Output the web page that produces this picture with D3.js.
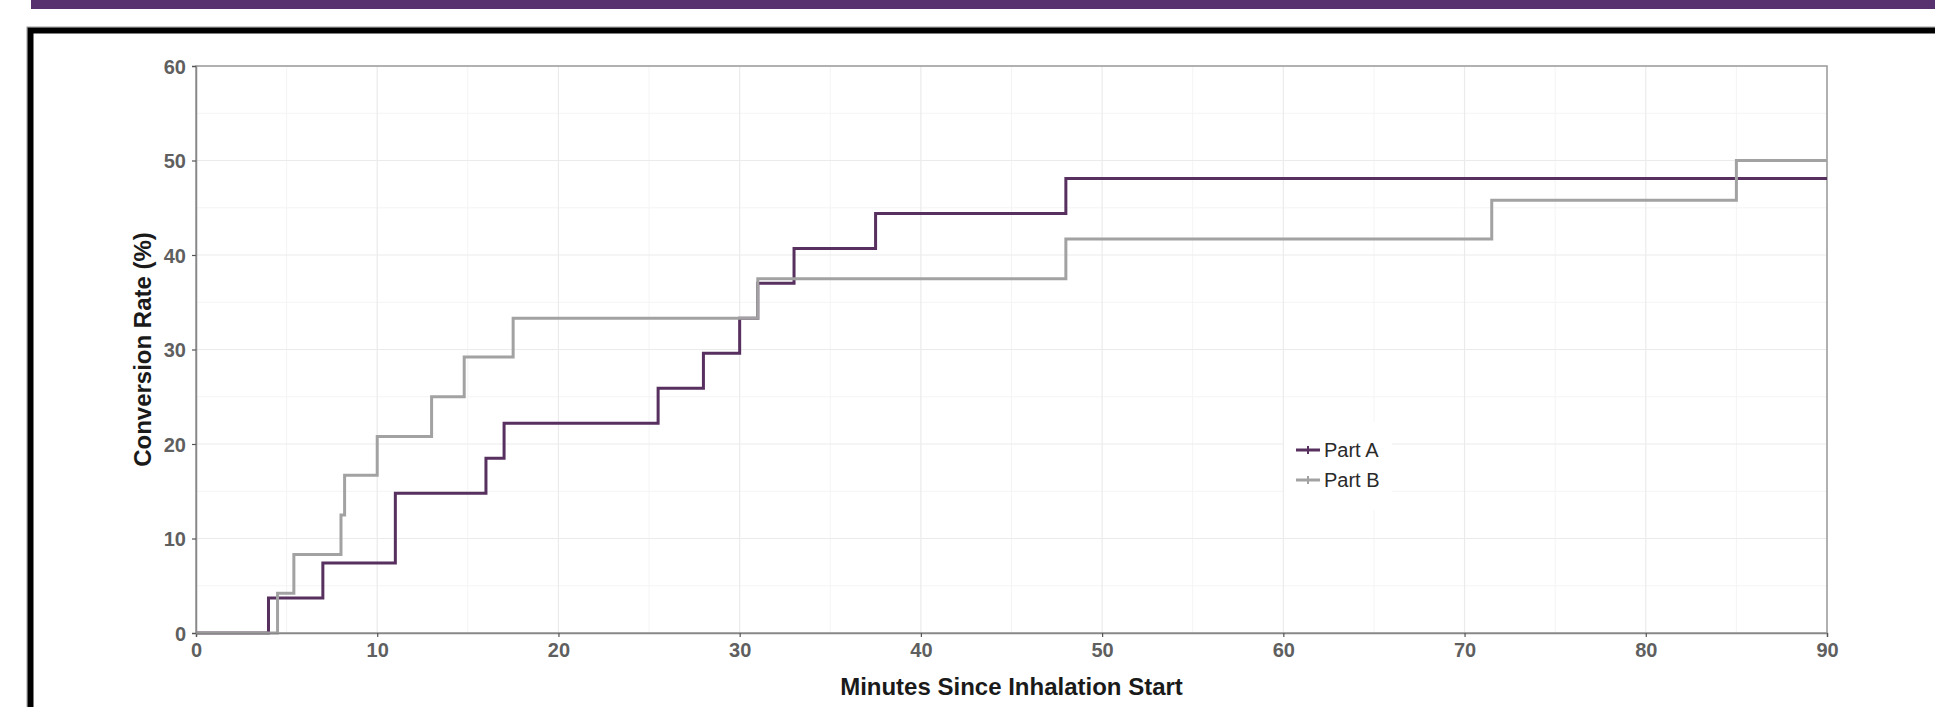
<!DOCTYPE html>
<html>
<head>
<meta charset="utf-8">
<script src="https://cdn.jsdelivr.net/npm/d3@7"></script>
<style>
  html, body { margin: 0; padding: 0; background: #fff; }
  svg { display: block; }
  text { font-family: "Liberation Sans", Arial, sans-serif; }
</style>
</head>
<body>
<div id="chart"></div>
<script>
// Part A: cumulative conversion (%) by minutes since inhalation start
const timesA = [0, 4, 7, 11, 16, 17, 25.5, 28, 30, 31, 33, 37.5, 48, 90];
const rateA  = [0, 3.7, 7.4, 14.8, 18.5, 22.2, 25.9, 29.6, 33.3, 37.0, 40.7, 44.4, 48.1, 48.1];
// Part B
const timesB = [0, 4.5, 5.4, 8, 8.2, 10, 13, 14.8, 17.5, 31, 48, 71.5, 85, 90];
const rateB  = [0, 4.2, 8.3, 12.5, 16.7, 20.8, 25.0, 29.2, 33.3, 37.5, 41.7, 45.8, 50.0, 50.0];

const seriesNames = ['Part A', 'Part B'];
const xTicks = [0, 10, 20, 30, 40, 50, 60, 70, 80, 90];
const yTicks = [0, 10, 20, 30, 40, 50, 60];

const W = 1935, H = 707;
const m = { left: 196, right: W - 1827, top: 66, bottom: H - 633 };
const colors = { 'Part A': '#57305f', 'Part B': '#a2a2a2' };

const svg = d3.select('#chart').append('svg')
  .attr('width', W).attr('height', H);

// page chrome: purple band and black frame
svg.append('rect').attr('x', 31).attr('y', 0).attr('width', W - 31).attr('height', 9)
  .attr('fill', '#58316f');
svg.append('rect').attr('x', 27).attr('y', 27).attr('width', W + 40).attr('height', H + 40)
  .attr('fill', 'none').attr('stroke', '#999').attr('stroke-width', 1);
svg.append('rect').attr('x', 30.5).attr('y', 30.5).attr('width', W + 40).attr('height', H + 40)
  .attr('fill', 'none').attr('stroke', '#000').attr('stroke-width', 6);

const x = d3.scaleLinear().domain([0, 90]).range([m.left, W - m.right]);
const y = d3.scaleLinear().domain([0, 60]).range([H - m.bottom, m.top]);

const g = svg.append('g');

// minor grid
const minorX = d3.range(5, 90, 10), minorY = d3.range(5, 60, 10);
g.append('g').selectAll('line').data(minorX).join('line')
  .attr('x1', d => x(d)).attr('x2', d => x(d)).attr('y1', y(0)).attr('y2', y(60))
  .attr('stroke', '#f4f4f4').attr('stroke-width', 1);
g.append('g').selectAll('line').data(minorY).join('line')
  .attr('y1', d => y(d)).attr('y2', d => y(d)).attr('x1', x(0)).attr('x2', x(90))
  .attr('stroke', '#f4f4f4').attr('stroke-width', 1);
// major grid
g.append('g').selectAll('line').data(xTicks).join('line')
  .attr('x1', d => x(d)).attr('x2', d => x(d)).attr('y1', y(0)).attr('y2', y(60))
  .attr('stroke', '#ebebeb').attr('stroke-width', 1.2);
g.append('g').selectAll('line').data(yTicks).join('line')
  .attr('y1', d => y(d)).attr('y2', d => y(d)).attr('x1', x(0)).attr('x2', x(90))
  .attr('stroke', '#ebebeb').attr('stroke-width', 1.2);

// panel border
g.append('rect').attr('x', x(0)).attr('y', y(60))
  .attr('width', x(90) - x(0)).attr('height', y(0) - y(60))
  .attr('fill', 'none').attr('stroke', '#9a9a9a').attr('stroke-width', 1.5);

// step lines
const line = d3.line().x(d => x(d[0])).y(d => y(d[1])).curve(d3.curveStepAfter);
const dataA = timesA.map((t, i) => [t, rateA[i]]);
const dataB = timesB.map((t, i) => [t, rateB[i]]);
[['Part A', dataA], ['Part B', dataB]].forEach(([name, d]) => {
  g.append('path').datum(d).attr('d', line)
    .attr('fill', 'none').attr('stroke', colors[name])
    .attr('stroke-width', 3).attr('stroke-linejoin', 'miter');
});

// axes
const xAxis = g.append('g').attr('transform', `translate(0,${y(0)})`)
  .call(d3.axisBottom(x).tickValues(xTicks).tickSize(4).tickPadding(6));
const yAxis = g.append('g').attr('transform', `translate(${x(0)},0)`)
  .call(d3.axisLeft(y).tickValues(yTicks).tickSize(4).tickPadding(6));
[xAxis, yAxis].forEach(a => {
  a.select('.domain').attr('stroke', '#888').attr('stroke-width', 1.5);
  a.selectAll('.tick line').attr('stroke', '#555').attr('stroke-width', 1.2);
  a.selectAll('.tick text').attr('fill', '#5f5f5f')
    .style('font-size', '20px').style('font-weight', 'bold')
    .style('font-family', '"Liberation Sans", Arial, sans-serif');
});
yAxis.selectAll('.tick text').attr('dy', '0.36em');

// axis titles
svg.append('text')
  .attr('x', (x(0) + x(90)) / 2).attr('y', 695)
  .attr('text-anchor', 'middle').attr('fill', '#1a1a1a')
  .style('font-size', '24px').style('font-weight', 'bold')
  .text('Minutes Since Inhalation Start');
svg.append('text')
  .attr('transform', `translate(151,${(y(0) + y(60)) / 2}) rotate(-90)`)
  .attr('text-anchor', 'middle').attr('fill', '#1a1a1a')
  .style('font-size', '24px').style('font-weight', 'bold')
  .text('Conversion Rate (%)');

// legend
const leg = svg.append('g').attr('transform', 'translate(1296,450)');
leg.append('rect').attr('x', -12).attr('y', -28).attr('width', 108).attr('height', 88)
  .attr('fill', '#fff');
const items = leg.selectAll('g').data(seriesNames).join('g')
  .attr('transform', (d, i) => `translate(0,${i * 30})`);
items.append('line').attr('x1', 0).attr('x2', 24).attr('y1', 0).attr('y2', 0)
  .attr('stroke', d => colors[d]).attr('stroke-width', 3);
items.append('line').attr('x1', 12).attr('x2', 12).attr('y1', -4).attr('y2', 4)
  .attr('stroke', d => colors[d]).attr('stroke-width', 2);
items.append('text').attr('x', 28).attr('y', 0).attr('dy', '0.35em')
  .attr('fill', '#2a2a2a').style('font-size', '20px')
  .text(d => d);
</script>
</body>
</html>
